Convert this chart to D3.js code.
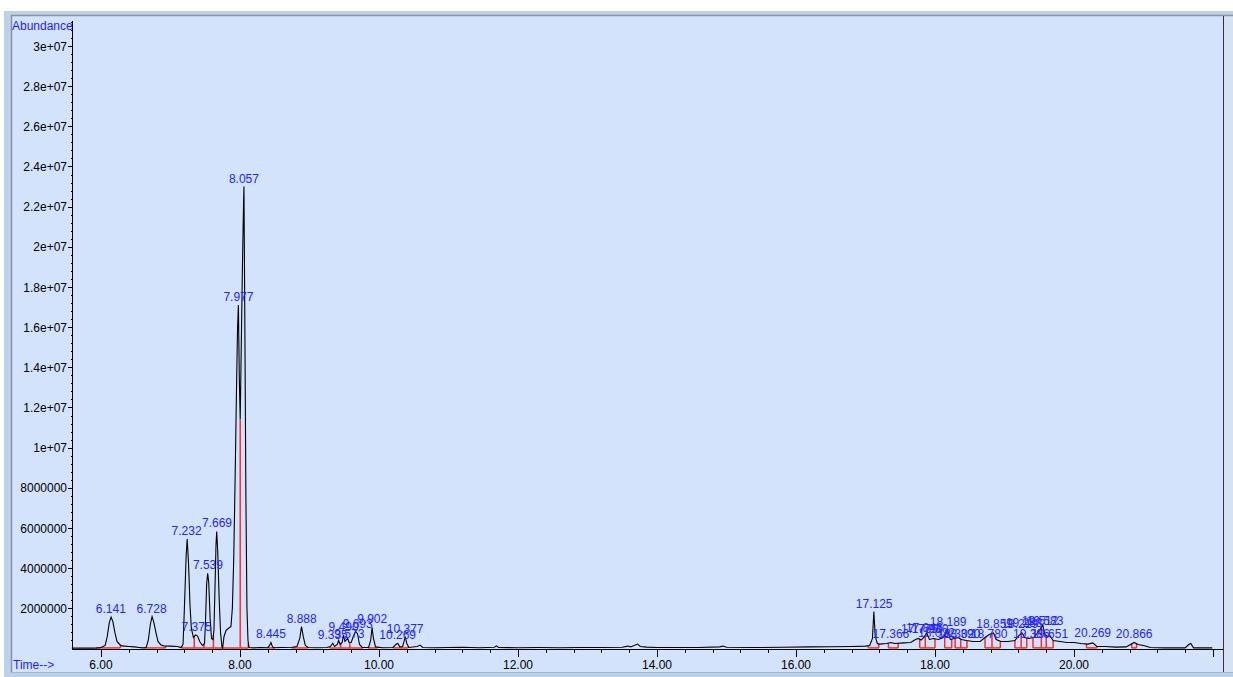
<!DOCTYPE html>
<html>
<head>
<meta charset="utf-8">
<script src="https://cdn.jsdelivr.net/npm/d3@7"></script>
<style>
  body { margin: 0; background: #fff; }
  svg { display: block; font-family: "Liberation Sans", Arial, sans-serif; }
</style>
</head>
<body>
<div id="chart"></div>
<script>
// Chromatogramme : temps (min), abondance (millions)
const trace = [
  [5.58, 0.02], [5.90, 0.02], [5.95, 0.03], [6.00, 0.05], [6.06, 0.15], [6.09, 0.6], [6.12, 1.3],
  [6.145, 1.56], [6.17, 1.35], [6.20, 0.8], [6.23, 0.35], [6.27, 0.2], [6.30, 0.13], [6.40, 0.1],
  [6.48, 0.08], [6.55, 0.05], [6.60, 0.03], [6.65, 0.05], [6.68, 0.4], [6.71, 1.2], [6.735, 1.59],
  [6.76, 1.3], [6.79, 0.8], [6.82, 0.35], [6.86, 0.18], [6.90, 0.13], [7.00, 0.12], [7.10, 0.1],
  [7.15, 0.05], [7.18, 0.2], [7.20, 2.0], [7.225, 4.6], [7.24, 5.45], [7.26, 4.2], [7.28, 2.2],
  [7.30, 1.0], [7.33, 0.55], [7.36, 0.68], [7.39, 0.62], [7.42, 0.35], [7.46, 0.15], [7.49, 0.25],
  [7.505, 1.5], [7.52, 3.2], [7.535, 3.75], [7.55, 3.3], [7.57, 1.5], [7.59, 0.5], [7.61, 0.45],
  [7.625, 0.9], [7.64, 3.0], [7.655, 5.2], [7.665, 5.83], [7.68, 4.8], [7.70, 2.5], [7.72, 0.8],
  [7.74, 0.1], [7.75, 0.02], [7.77, 0.6], [7.80, 0.9], [7.84, 1.02], [7.87, 1.1], [7.89, 2.0],
  [7.91, 4.5], [7.93, 8.5], [7.95, 13.0], [7.965, 16.0], [7.977, 17.1], [7.99, 13.5], [8.003, 11.4],
  [8.02, 15.5], [8.035, 19.0], [8.05, 22.0], [8.057, 23.0], [8.07, 16.0], [8.085, 7.5], [8.10, 2.0],
  [8.115, 0.4], [8.13, 0.05], [8.20, 0.03], [8.30, 0.05], [8.40, 0.04], [8.43, 0.18], [8.445, 0.3],
  [8.46, 0.15], [8.48, 0.04], [8.60, 0.05], [8.75, 0.06], [8.82, 0.1], [8.86, 0.5], [8.885, 1.09],
  [8.91, 0.6], [8.94, 0.15], [8.98, 0.05], [9.10, 0.04], [9.25, 0.05], [9.30, 0.1], [9.335, 0.26],
  [9.36, 0.1], [9.40, 0.2], [9.42, 0.4], [9.44, 0.2], [9.47, 0.3], [9.49, 0.67], [9.51, 0.35],
  [9.55, 0.5], [9.57, 0.3], [9.60, 0.3], [9.63, 0.6], [9.66, 0.84], [9.69, 0.75], [9.72, 0.2],
  [9.76, 0.05], [9.85, 0.05], [9.88, 0.4], [9.90, 1.05], [9.92, 0.5], [9.95, 0.08], [10.05, 0.04],
  [10.20, 0.05], [10.25, 0.22], [10.27, 0.25], [10.30, 0.08], [10.34, 0.1], [10.36, 0.35],
  [10.377, 0.59], [10.40, 0.25], [10.43, 0.05], [10.55, 0.1], [10.59, 0.17], [10.63, 0.05],
  [10.80, 0.04], [11.00, 0.05], [11.20, 0.06], [11.45, 0.04], [11.66, 0.06], [11.69, 0.13],
  [11.72, 0.05], [12.00, 0.04], [12.30, 0.05], [12.60, 0.04], [12.90, 0.05], [13.20, 0.05],
  [13.50, 0.06], [13.58, 0.12], [13.62, 0.08], [13.68, 0.16], [13.72, 0.22], [13.76, 0.1],
  [13.85, 0.07], [14.00, 0.05], [14.30, 0.05], [14.60, 0.05], [14.90, 0.08], [14.95, 0.12],
  [15.00, 0.06], [15.40, 0.05], [15.80, 0.06], [16.20, 0.08], [16.50, 0.09], [16.80, 0.1],
  [17.00, 0.12], [17.06, 0.15], [17.10, 0.5], [17.12, 1.84], [17.14, 0.6], [17.17, 0.25],
  [17.20, 0.22], [17.30, 0.25], [17.366, 0.3], [17.42, 0.25], [17.55, 0.28], [17.65, 0.3],
  [17.72, 0.45], [17.76, 0.5], [17.80, 0.42], [17.84, 0.55], [17.88, 0.78], [17.92, 0.45],
  [17.98, 0.5], [18.05, 0.45], [18.12, 0.55], [18.18, 0.92], [18.22, 0.45], [18.28, 0.5],
  [18.33, 0.55], [18.38, 0.45], [18.45, 0.4], [18.55, 0.35], [18.65, 0.35], [18.72, 0.55],
  [18.78, 0.7], [18.84, 0.78], [18.88, 0.45], [18.95, 0.35], [19.05, 0.35], [19.15, 0.4],
  [19.20, 0.62], [19.25, 0.78], [19.29, 0.55], [19.35, 0.5], [19.42, 0.55], [19.47, 0.76],
  [19.51, 0.95], [19.55, 1.17], [19.58, 0.7], [19.62, 0.6], [19.651, 0.65], [19.70, 0.4],
  [19.80, 0.35], [19.90, 0.3], [20.00, 0.3], [20.10, 0.25], [20.20, 0.22], [20.27, 0.28],
  [20.33, 0.1], [20.45, 0.1], [20.60, 0.07], [20.75, 0.08], [20.866, 0.3], [20.92, 0.2],
  [21.00, 0.15], [21.10, 0.05], [21.30, 0.03], [21.60, 0.03], [21.65, 0.2], [21.68, 0.25],
  [21.72, 0.03], [21.99, 0.03]
];

// Pics annotés : temps de rétention et hauteur de l'étiquette (millions)
const peakTimes = [6.141, 6.728, 7.232, 7.375, 7.539, 7.669, 7.977, 8.057, 8.445, 8.888,
  9.335, 9.490, 9.573, 9.693, 9.902, 10.269, 10.377, 17.125, 17.366, 17.775, 17.846, 17.930,
  18.022, 18.189, 18.302, 18.390, 18.780, 18.859, 19.219, 19.283, 19.386, 19.512, 19.583,
  19.651, 20.269, 20.866];
const peakHeights = [1.56, 1.59, 5.45, 0.68, 3.75, 5.83, 17.1, 23.0, 0.3, 1.09,
  0.26, 0.67, 0.3, 0.84, 1.05, 0.25, 0.59, 1.84, 0.3, 0.55, 0.6, 0.55,
  0.35, 0.92, 0.3, 0.3, 0.3, 0.82, 0.82, 0.85, 0.3, 0.95, 0.95,
  0.3, 0.37, 0.33];

// Intégration : lignes de base rouges et lignes de coupure
const baselineSegments = [[5.93, 6.28], [6.62, 6.93], [7.16, 8.12], [8.40, 8.50], [8.74, 8.98],
  [9.29, 9.77], [9.84, 9.98], [10.20, 10.42], [17.04, 17.19], [17.33, 17.47], [17.78, 18.00],
  [18.14, 18.24], [18.29, 18.46], [18.72, 18.94], [19.15, 19.32], [19.41, 19.70],
  [20.18, 20.33], [20.83, 20.90]];
const dropTimes = [7.342, 7.482, 7.617, 8.003, 9.45, 9.58, 10.33, 17.86, 18.37, 18.82,
  19.24, 19.53, 19.60];

// Axes
const yTickValues = [2, 4, 6, 8, 10, 12, 14, 16, 18, 20, 22, 24, 26, 28, 30];
const yTickLabels = ["2000000", "4000000", "6000000", "8000000", "1e+07", "1.2e+07", "1.4e+07",
  "1.6e+07", "1.8e+07", "2e+07", "2.2e+07", "2.4e+07", "2.6e+07", "2.8e+07", "3e+07"];
const xTickValues = [6, 8, 10, 12, 14, 16, 18, 20, 22];
const xTickLabels = ["6.00", "8.00", "10.00", "12.00", "14.00", "16.00", "18.00", "20.00", ""];

const W = 1233, H = 677;
const svg = d3.select("#chart").append("svg")
  .attr("width", W)
  .attr("height", H);

// Cadre de la fenêtre
svg.append("rect").attr("x", 4).attr("y", 11).attr("width", W - 4).attr("height", H - 11)
  .attr("fill", "#bcd2eb");
svg.append("rect").attr("x", 12).attr("y", 16).attr("width", 1211).attr("height", 656)
  .attr("fill", "#d3e3fb");
svg.append("rect").attr("x", 1224).attr("y", 16).attr("width", 9).attr("height", 656)
  .attr("fill", "#d6e2f3");
svg.append("line").attr("x1", 11).attr("x2", W).attr("y1", 15.5).attr("y2", 15.5)
  .attr("stroke", "#8e9296").attr("stroke-width", 1.5);
svg.append("line").attr("x1", 11.5).attr("x2", 11.5).attr("y1", 15).attr("y2", 673)
  .attr("stroke", "#8e9296").attr("stroke-width", 1.5);
svg.append("line").attr("x1", 1223.5).attr("x2", 1223.5).attr("y1", 16).attr("y2", 673)
  .attr("stroke", "#333").attr("stroke-width", 1);
svg.append("line").attr("x1", 11).attr("x2", W).attr("y1", 672.5).attr("y2", 672.5)
  .attr("stroke", "#a9b6c6").attr("stroke-width", 1);

// Échelles
const x = d3.scaleLinear().domain([6, 20]).range([101, 1074]);
const y = d3.scaleLinear().domain([0, 30]).range([648.5, 46]);
const xMin = x.invert(72), xMax = 22;
const yTop = y.invert(21);

// Axe Y
const gy = svg.append("g").attr("stroke", "#000");
gy.append("line").attr("x1", 72.5).attr("x2", 72.5).attr("y1", 21).attr("y2", 649.5);
d3.range(0.4, yTop, 0.4).forEach(v => {
  gy.append("line").attr("x1", 71).attr("x2", 72.5)
    .attr("y1", Math.round(y(v)) + 0.5).attr("y2", Math.round(y(v)) + 0.5);
});
yTickValues.forEach((v, i) => {
  gy.append("line").attr("x1", 68).attr("x2", 72.5)
    .attr("y1", Math.round(y(v)) + 0.5).attr("y2", Math.round(y(v)) + 0.5);
  svg.append("text").attr("x", 67).attr("y", y(v) + 4.5)
    .attr("text-anchor", "end").attr("font-size", 12).attr("fill", "#000")
    .text(yTickLabels[i]);
});

// Axe X
const gx = svg.append("g").attr("stroke", "#000");
gx.append("line").attr("x1", 72).attr("x2", 1223).attr("y1", 649.5).attr("y2", 649.5);
d3.range(6.4, xMax, 0.4).forEach(t => {
  gx.append("line").attr("x1", Math.round(x(t)) + 0.5).attr("x2", Math.round(x(t)) + 0.5)
    .attr("y1", 649.5).attr("y2", 653);
});
xTickValues.forEach((t, i) => {
  gx.append("line").attr("x1", Math.round(x(t)) + 0.5).attr("x2", Math.round(x(t)) + 0.5)
    .attr("y1", 649.5).attr("y2", 657);
  svg.append("text").attr("x", x(t)).attr("y", 669)
    .attr("text-anchor", "middle").attr("font-size", 12).attr("fill", "#000")
    .text(xTickLabels[i]);
});

// Étiquettes des axes
svg.append("text").attr("x", 12).attr("y", 30).attr("font-size", 12)
  .attr("fill", "#1f1fff").text("Abundance");
svg.append("text").attr("x", 13).attr("y", 669).attr("font-size", 12)
  .attr("fill", "#1f1fff").text("Time-->");

// Valeur du signal à un temps donné (interpolation linéaire entre les points lus)
const times = trace.map(d => d[0]);
function traceAt(t) {
  const i = Math.max(1, d3.bisectLeft(times, t));
  const [t0, a0] = trace[i - 1], [t1, a1] = trace[i];
  return a0 + (a1 - a0) * (t - t0) / (t1 - t0);
}

// Intégration (rouge)
const red = svg.append("g").attr("stroke", "#ff2a2a").attr("stroke-width", 1.5);
baselineSegments.forEach(([s, e]) => {
  red.append("line").attr("x1", x(s)).attr("x2", x(e)).attr("y1", y(0.03)).attr("y2", y(0.03));
  [s, e].forEach(t => {
    red.append("line").attr("x1", x(t)).attr("x2", x(t))
      .attr("y1", y(0.03)).attr("y2", y(traceAt(t)));
  });
});
dropTimes.forEach(t => {
  red.append("line").attr("x1", x(t)).attr("x2", x(t))
    .attr("y1", y(0.03)).attr("y2", y(traceAt(t)));
});

// Tracé du chromatogramme
const line = d3.line().x(d => x(d[0])).y(d => y(d[1]));
svg.append("path").datum(trace)
  .attr("d", line)
  .attr("fill", "none")
  .attr("stroke", "#000")
  .attr("stroke-width", 1.1);

// Étiquettes des pics
svg.append("g").selectAll("text")
  .data(peakTimes)
  .join("text")
  .attr("x", d => x(d))
  .attr("y", (d, i) => y(peakHeights[i]) - 4)
  .attr("text-anchor", "middle")
  .attr("font-size", 12)
  .attr("fill", "#2424ff")
  .text(d => d3.format(".3f")(d));
</script>
</body>
</html>
